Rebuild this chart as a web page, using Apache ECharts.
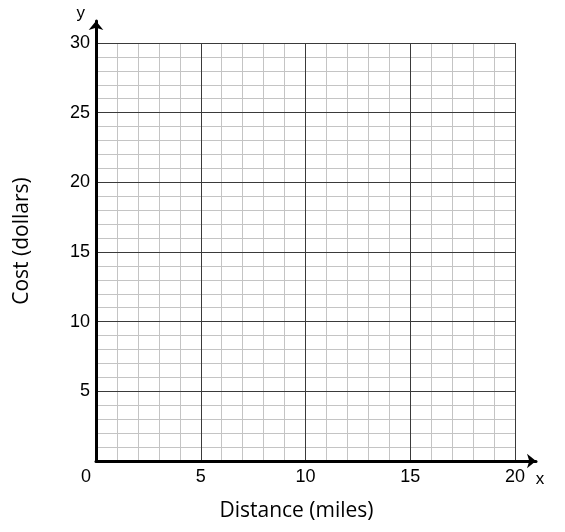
<!DOCTYPE html>
<html>
<head>
<meta charset="utf-8">
<script src="https://cdn.jsdelivr.net/npm/echarts@6/dist/echarts.min.js"></script>
<style>
html,body{margin:0;padding:0;background:#fff;}
#chart{width:565px;height:532px;}
</style>
</head>
<body>
<div id="chart"></div>
<script>
// Axis ranges and tick steps
const xRange = [0, 20];
const yRange = [0, 30];
const xStep = 5;
const yStep = 5;
const xMinorStep = 1;
const yMinorStep = 1;
// Axis titles and names
const xTitle = 'Distance (miles)';
const yTitle = 'Cost (dollars)';
const xName = 'x';
const yName = 'y';
// No plotted data (blank grid)
const seriesData = [];

const tickFont = 'Liberation Sans, Arial, sans-serif';
const titleFont = 'Open Sans, sans-serif';

const chart = echarts.init(document.getElementById('chart'), null, {renderer: 'canvas'});

const off = {show: false};

chart.setOption({
  animation: false,
  backgroundColor: '#ffffff',
  grid: [
    {left: 96, right: 50, top: 43, bottom: 71, containLabel: false},
    {left: 96, right: 29, top: 21, bottom: 71, containLabel: false}
  ],
  xAxis: [
    // major grid + labels
    {
      type: 'value', gridIndex: 0, position: 'bottom', z: 3,
      min: xRange[0], max: xRange[1], interval: xStep,
      axisLine: off, axisTick: off,
      splitLine: {show: true, lineStyle: {color: '#3a3a3a', width: 1}},
      axisLabel: {
        show: true, margin: 7, color: '#000',
        fontFamily: tickFont, fontSize: 18,
        formatter: function (v) { return v === xRange[0] ? '{z|' + v + '}' : String(v); },
        rich: {z: {fontFamily: tickFont, fontSize: 18, color: '#000', padding: [0, 20, 0, 0]}}
      },
      name: xTitle, nameLocation: 'middle', nameGap: 40,
      nameTextStyle: {fontFamily: titleFont, fontSize: 21, color: '#000', padding: [0, 18, 0, 0]}
    },
    // minor grid
    {
      type: 'value', gridIndex: 0, position: 'top', z: 1,
      min: xRange[0], max: xRange[1], interval: xMinorStep,
      axisLine: off, axisTick: off, axisLabel: off,
      splitLine: {show: true, lineStyle: {color: '#c4c4c4', width: 1}}
    },
    // arrow axis
    {
      type: 'value', gridIndex: 1, min: 0, max: 1, interval: 1, z: 10,
      axisLine: {show: true, onZero: false, symbol: ['none', 'arrow'], symbolSize: [11, 9],
        lineStyle: {color: '#000', width: 3}},
      axisTick: off, splitLine: off,
      axisLabel: {
        show: true, margin: 10, showMinLabel: false,
        formatter: function (v) { return v === 1 ? '{n|' + xName + '}' : ''; },
        rich: {n: {fontFamily: tickFont, fontSize: 17, color: '#000', padding: [0, 0, 0, 8]}}
      }
    }
  ],
  yAxis: [
    {
      type: 'value', gridIndex: 0, position: 'left', z: 3,
      min: yRange[0], max: yRange[1], interval: yStep,
      axisLine: off, axisTick: off,
      splitLine: {show: true, lineStyle: {color: '#3a3a3a', width: 1}},
      axisLabel: {
        show: true, margin: 6, color: '#000', showMinLabel: false,
        fontFamily: tickFont, fontSize: 18
      },
      name: yTitle, nameLocation: 'middle', nameGap: 63,
      nameTextStyle: {fontFamily: titleFont, fontSize: 21, color: '#000', padding: [0, 0, 0, 22]}
    },
    {
      type: 'value', gridIndex: 0, position: 'right', z: 1,
      min: yRange[0], max: yRange[1], interval: yMinorStep,
      axisLine: off, axisTick: off, axisLabel: off,
      splitLine: {show: true, lineStyle: {color: '#c4c4c4', width: 1}}
    },
    {
      type: 'value', gridIndex: 1, min: 0, max: 1, interval: 1, z: 10,
      axisLine: {show: true, onZero: false, symbol: ['none', 'arrow'], symbolSize: [11, 9],
        lineStyle: {color: '#000', width: 3}},
      axisTick: off, splitLine: off, axisLabel: off,
      name: yName, nameLocation: 'end', nameGap: 8,
      nameTextStyle: {fontFamily: tickFont, fontSize: 17, color: '#000', align: 'right',
        verticalAlign: 'middle', padding: [0, 11, 0, 0]}
    }
  ],
  series: [
    {type: 'line', xAxisIndex: 0, yAxisIndex: 0, data: seriesData, silent: true},
    {type: 'line', xAxisIndex: 2, yAxisIndex: 2, data: [], silent: true}
  ]
});
</script>
</body>
</html>
